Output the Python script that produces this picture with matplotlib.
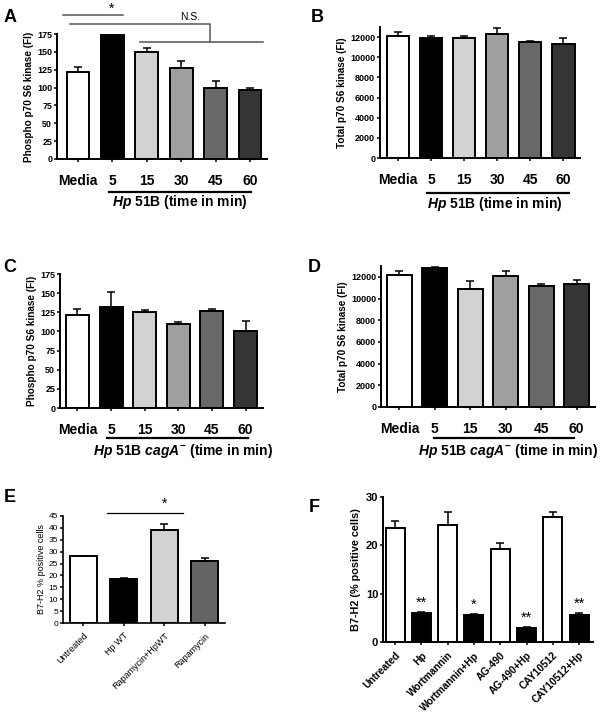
import matplotlib
matplotlib.use("Agg")
import matplotlib.pyplot as plt
from matplotlib.lines import Line2D
import numpy as np

plt.rcParams['font.family'] = ['Liberation Sans', 'DejaVu Sans']
plt.rcParams['mathtext.fontset'] = 'custom'
plt.rcParams['mathtext.rm'] = 'Liberation Sans:bold'
plt.rcParams['mathtext.it'] = 'Liberation Sans:bold:italic'
plt.rcParams['mathtext.bf'] = 'Liberation Sans:bold'

# ---- data ----
time_labels = ["Media", "5", "15", "30", "45", "60"]
time_colors = ["#ffffff", "#000000", "#d2d2d2", "#a0a0a0", "#686868", "#353535"]

a_vals = [122, 173, 150, 128, 99, 97]
a_err = [7, 1.5, 5, 9, 10, 2]

b_vals = [12150, 11900, 11900, 12350, 11500, 11300]
b_err = [350, 200, 200, 600, 100, 650]

c_vals = [122, 132, 126, 110, 127, 101]
c_err = [7, 19, 2, 2, 2, 13]

d_vals = [12150, 12800, 10850, 12050, 11150, 11300]
d_err = [400, 100, 800, 500, 150, 450]

e_labels = ["Untreated", "Hp WT", "Rapamycin+HpWT", "Rapamycin"]
e_vals = [28, 18.3, 39.3, 26]
e_err = [0.2, 0.6, 2.5, 1.5]
e_colors = ["#ffffff", "#000000", "#d2d2d2", "#646464"]

f_labels = ["Untreated", "Hp", "Wortmannin", "Wortmannin+Hp", "AG-490",
            "AG-490+Hp", "CAY10512", "CAY10512+Hp"]
f_vals = [23.5, 5.9, 24.3, 5.6, 19.2, 3.0, 25.9, 5.6]
f_err = [1.5, 0.3, 2.5, 0.2, 1.3, 0.15, 1.1, 0.5]
f_colors = ["#ffffff", "#000000"] * 4
f_stars = ["", "**", "", "*", "", "**", "", "**"]

W, H = 604, 719
fig = plt.figure(figsize=(W / 100, H / 100), dpi=100)


def px_axes(left, top, right, bottom):
    return fig.add_axes([left / W, 1 - bottom / H, (right - left) / W, (bottom - top) / H])


def fx(x):
    return x / W


def fy(y):
    return 1 - y / H


def style(ax, lw=1.4):
    for s in ["top", "right"]:
        ax.spines[s].set_visible(False)
    for s in ["left", "bottom"]:
        ax.spines[s].set_linewidth(lw)
    ax.tick_params(direction="out", length=2.5, width=1.1)


def bars(ax, vals, errs, colors, width):
    x = np.arange(len(vals))
    ax.bar(x, vals, width=width, color=colors, edgecolor="black", linewidth=1.4, zorder=2)
    ax.errorbar(x, vals, yerr=[np.zeros(len(errs)), errs], fmt="none", ecolor="black",
                elinewidth=1.1, capsize=3, capthick=1.1, zorder=3)
    return x


def time_panel(box, vals, errs, ylim, yticks, ylabel, xlim, width):
    ax = px_axes(*box)
    style(ax)
    x = bars(ax, vals, errs, time_colors, width)
    ax.set_xlim(*xlim)
    ax.set_ylim(*ylim)
    ax.set_yticks(yticks)
    ax.tick_params(axis="y", labelsize=6.5, pad=1)
    for t in ax.get_yticklabels():
        t.set_fontweight("bold")
    ax.set_xticks(x)
    ax.set_xticklabels(time_labels, fontsize=10, fontweight="bold")
    ax.tick_params(axis="x", pad=8)
    ax.set_ylabel(ylabel, fontsize=7.2, fontweight="bold", labelpad=2)
    return ax


# A
axA = time_panel((57, 34, 267, 159), a_vals, a_err, (0, 175), range(0, 176, 25),
                 "Phospho p70 S6 kinase (FI)", (-0.61, 5.49), 0.66)
# B
axB = time_panel((380, 27, 580, 158), b_vals, b_err, (0, 13000), range(0, 12001, 2000),
                 "Total p70 S6 kinase (FI)", (-0.54, 5.5), 0.67)
# C
axC = time_panel((60, 274, 263, 408), c_vals, c_err, (0, 175), range(0, 176, 25),
                 "Phospho p70 S6 kinase (FI)", (-0.52, 5.52), 0.68)
# D
axD = time_panel((381, 266, 595, 407), d_vals, d_err, (0, 13000), range(0, 12001, 2000),
                 "Total p70 S6 kinase (FI)", (-0.52, 5.52), 0.7)

# underlines and group titles
for x0, x1, yl, xc, yt, txt in [
    (109, 251, 192, 180, 202, r"$\mathit{Hp}$ 51B (time in min)"),
    (427, 569, 193, 495, 204, r"$\mathit{Hp}$ 51B (time in min)"),
    (107, 248, 438, 183, 451, r"$\mathit{Hp}$ 51B $\mathit{cagA}^{-}$ (time in min)"),
    (434, 574, 438, 508, 451, r"$\mathit{Hp}$ 51B $\mathit{cagA}^{-}$ (time in min)"),
]:
    fig.add_artist(Line2D([fx(x0), fx(x1)], [fy(yl), fy(yl)], color="black", lw=1.6))
    fig.text(fx(xc), fy(yt), txt, ha="center", va="center", fontsize=10, fontweight="bold")

# significance marks in A
sig_col = "#555555"
fig.add_artist(Line2D([fx(63), fx(123)], [fy(15), fy(15)], color=sig_col, lw=1.1))
fig.text(fx(112), fy(9), "*", ha="center", va="center", fontsize=10)
fig.add_artist(Line2D([fx(70), fx(210), fx(210)], [fy(24), fy(24), fy(42)], color=sig_col, lw=1.1))
fig.add_artist(Line2D([fx(140), fx(263)], [fy(42), fy(42)], color=sig_col, lw=1.1))
fig.text(fx(190), fy(17), "N.S.", ha="center", va="center", fontsize=7.5)

# E
axE = px_axes(63, 516, 225, 623)
style(axE, lw=1.2)
xe = bars(axE, e_vals, e_err, e_colors, 0.67)
axE.set_xlim(-0.5, 3.5)
axE.set_ylim(0, 45)
axE.set_yticks(range(0, 46, 5))
axE.tick_params(axis="y", labelsize=6, pad=1)
axE.set_xticks(xe)
axE.set_xticklabels(e_labels, rotation=45, ha="right", rotation_mode="anchor", fontsize=6.5)
axE.set_ylabel("B7-H2 % positive cells", fontsize=6.5, labelpad=2)
fig.add_artist(Line2D([fx(107), fx(183)], [fy(513), fy(513)], color="black", lw=0.9))
fig.text(fx(165), fy(504), "*", ha="center", va="center", fontsize=10)

# F
axF = px_axes(383, 497, 593, 642)
style(axF, lw=1.4)
xf = bars(axF, f_vals, f_err, f_colors, 0.72)
axF.set_xlim(-0.46, 7.53)
axF.set_ylim(0, 30)
axF.set_yticks([0, 10, 20, 30])
axF.tick_params(axis="y", labelsize=8, pad=1)
for t in axF.get_yticklabels():
    t.set_fontweight("bold")
axF.set_xticks(xf)
axF.set_xticklabels(f_labels, rotation=45, ha="right", rotation_mode="anchor",
                    fontsize=7.3, fontweight="bold")
axF.set_ylabel("B7-H2 (% positive cells)", fontsize=7.8, fontweight="bold", labelpad=3)
for xi, v, e, s in zip(xf, f_vals, f_err, f_stars):
    if s:
        axF.text(xi, v + e + 0.4, s, ha="center", va="bottom", fontsize=10.5)

# panel letters
for letter, x, y in [("A", 10, 18), ("B", 317, 17), ("C", 10, 267), ("D", 314, 267),
                     ("E", 10, 498), ("F", 314, 507)]:
    fig.text(fx(x), fy(y), letter, ha="center", va="center", fontsize=13, fontweight="bold")

fig.savefig("out.png", dpi=100)
